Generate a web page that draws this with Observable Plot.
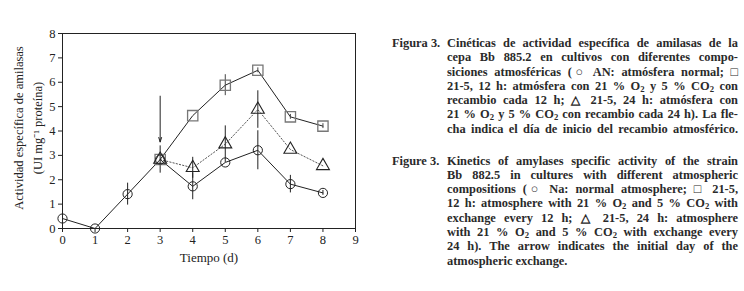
<!DOCTYPE html>
<html>
<head>
<meta charset="utf-8">
<script src="https://cdn.jsdelivr.net/npm/d3@7"></script>
<script src="https://cdn.jsdelivr.net/npm/@observablehq/plot@0.6"></script>
<style>
  html, body { margin: 0; padding: 0; background: #fff; }
  #wrap { position: relative; width: 744px; height: 291px; overflow: hidden; }
  #chart { position: absolute; left: 0; top: 0; }
  .cap { position: absolute; font-family: "Liberation Serif", serif; font-weight: bold; font-size: 12.4px; line-height: 14.3px; color: #2a2a2a; }
  .cap .lab { position: absolute; left: 0; top: 0; white-space: nowrap; }
  .cap .body { position: absolute; left: 55px; top: 0; width: 291px; }
  .cap .ln { text-align: justify; text-align-last: justify; white-space: nowrap; height: 14.3px; }
  .cap .ln.last { text-align-last: left; }
  .cap sub { font-size: 0.7em; vertical-align: -0.25em; line-height: 0; }
</style>
</head>
<body>
<div id="wrap">
  <div id="chart"></div>
  <div class="cap" id="capEs" style="left:392px; top:36px;"></div>
  <div class="cap" id="capEn" style="left:392px; top:153.5px;"></div>
</div>
<script>
// ---- data ----
const days = [0, 1, 2, 3, 4, 5, 6, 7, 8];
const anValues = [0.41, 0.0, 1.41, 2.83, 1.73, 2.71, 3.21, 1.82, 1.46];
const anErrors = [0, 0, 0.45, 0.56, 0.55, 0, 0.8, 0.36, 0.1];
const days12 = [3, 4, 5, 6, 7, 8];
const h12Values = [2.83, 4.63, 5.88, 6.49, 4.58, 4.2];
const h12Errors = [0, 0, 0.43, 0.1, 0.1, 0.1];
const days24 = [3, 4, 5, 6, 7, 8];
const h24Values = [2.83, 2.49, 3.46, 4.88, 3.24, 2.57];
const h24Errors = [0, 0.43, 0.75, 0.77, 0, 0];
const arrowDay = [3];
const arrowFrom = [5.43];
const arrowTo = [3.55];
const xTicks = [0, 1, 2, 3, 4, 5, 6, 7, 8, 9];
const yTicks = [0, 1, 2, 3, 4, 5, 6, 7, 8];
const xLabel = "Tiempo (d)";
const yLabel1 = "Actividad específica de amilasas";
const yLabel2 = "(UI mg\u207B\u00B9 proteína)";

const captionEs = [
  "Cinéticas de actividad específica de amilasas de la",
  "cepa Bb 885.2 en cultivos con diferentes compo-",
  "siciones atmosféricas (○ AN: atmósfera normal; □",
  "21-5, 12 h: atmósfera con 21 % O<sub>2</sub> y 5 % CO<sub>2</sub> con",
  "recambio cada 12 h; △ 21-5, 24 h: atmósfera con",
  "21 % O<sub>2</sub> y 5 % CO<sub>2</sub> con recambio cada 24 h). La fle-",
  "cha indica el día de inicio del recambio atmosférico."
];
const captionEn = [
  "Kinetics of amylases specific activity of the strain",
  "Bb 882.5 in cultures with different atmospheric",
  "compositions (○ Na: normal atmosphere; □ 21-5,",
  "12 h: atmosphere with 21 % O<sub>2</sub> and 5 % CO<sub>2</sub> with",
  "exchange every 12 h; △ 21-5, 24 h: atmosphere",
  "with 21 % O<sub>2</sub> and 5 % CO<sub>2</sub> with exchange every",
  "24 h). The arrow indicates the initial day of the",
  "atmospheric exchange."
];

// ---- tables ----
const an = days.map((d, i) => ({x: d, y: anValues[i], e: anErrors[i]}));
const h12 = days12.map((d, i) => ({x: d, y: h12Values[i], e: h12Errors[i]}));
const h24 = days24.map((d, i) => ({x: d, y: h24Values[i], e: h24Errors[i]}));
const arrows = arrowDay.map((d, i) => ({x: d, y1: arrowFrom[i], y2: arrowTo[i]}));
const err = arr => arr.filter(d => d.e > 0);

const chart = Plot.plot({
  width: 370,
  height: 291,
  marginLeft: 62,
  marginRight: 15,
  marginTop: 33,
  marginBottom: 63,
  style: {fontFamily: "Liberation Serif, serif", fontSize: "12.5px", color: "#222", background: "white"},
  x: {domain: [0, 9], ticks: xTicks, tickSize: 4, tickPadding: 3, label: null},
  y: {domain: [0, 8], ticks: yTicks, tickSize: 4, tickPadding: 3, label: null},
  marks: [
    Plot.frame({stroke: "#222"}),
    Plot.line(h24, {x: "x", y: "y", stroke: "#555", strokeWidth: 1, strokeDasharray: "1.3,2"}),
    Plot.line(h12, {x: "x", y: "y", stroke: "#222", strokeWidth: 1}),
    Plot.line(an, {x: "x", y: "y", stroke: "#222", strokeWidth: 1}),
    Plot.ruleX(err(an), {x: "x", y1: d => d.y - d.e, y2: d => d.y + d.e, stroke: "#222", strokeWidth: 1}),
    Plot.ruleX(err(h12), {x: "x", y1: d => d.y - d.e, y2: d => d.y + d.e, stroke: "#444", strokeWidth: 1}),
    Plot.ruleX(err(h24), {x: "x", y1: d => d.y - d.e, y2: d => d.y + d.e, stroke: "#222", strokeWidth: 1}),
    Plot.dot(h12, {x: "x", y: "y", symbol: "square", r: 5.8, stroke: "#777", strokeWidth: 1.3, fill: "none"}),
    Plot.dot(h24, {x: "x", y: "y", symbol: "triangle", r: 4.8, stroke: "#222", strokeWidth: 1.1, fill: "none"}),
    Plot.dot(an, {x: "x", y: "y", symbol: "circle", r: 4.6, stroke: "#222", strokeWidth: 1, fill: "none"}),
    Plot.arrow(arrows, {x1: "x", y1: "y1", x2: "x", y2: "y2", stroke: "#222", strokeWidth: 1, headLength: 7, headAngle: 35}),
    Plot.text([xLabel], {frameAnchor: "bottom", dy: 33, fontSize: 13, fill: "#222"}),
    Plot.text([yLabel1], {frameAnchor: "left", textAnchor: "middle", dx: -44, dy: -3, rotate: -90, fontSize: 12.5, fill: "#222"}),
    Plot.text([yLabel2], {frameAnchor: "left", textAnchor: "middle", dx: -25, dy: -3, rotate: -90, fontSize: 12.5, fill: "#222"})
  ]
});
document.getElementById("chart").appendChild(chart);

function fill(id, label, lines) {
  const el = document.getElementById(id);
  const lab = document.createElement("div");
  lab.className = "lab";
  lab.textContent = label;
  el.appendChild(lab);
  const body = document.createElement("div");
  body.className = "body";
  lines.forEach((t, i) => {
    const ln = document.createElement("div");
    ln.className = "ln" + (i === lines.length - 1 && id === "capEn" ? " last" : "");
    ln.innerHTML = t;
    body.appendChild(ln);
  });
  el.appendChild(body);
}
fill("capEs", "Figura 3.", captionEs);
fill("capEn", "Figure 3.", captionEn);
</script>
</body>
</html>
